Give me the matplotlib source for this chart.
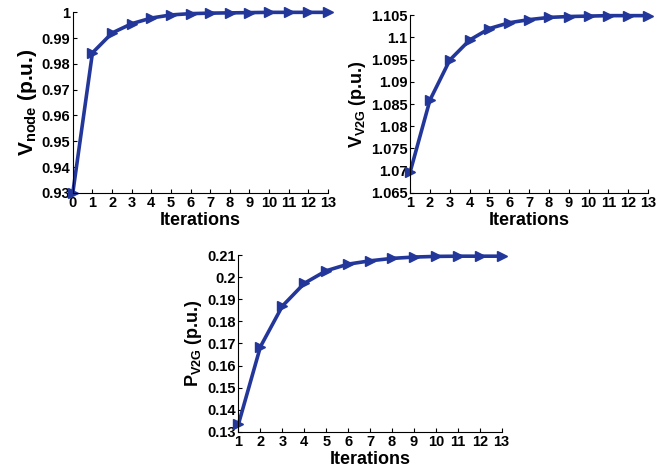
import matplotlib
matplotlib.use("Agg")
import matplotlib.pyplot as plt
from matplotlib.ticker import FormatStrFormatter

plt.rcParams['font.family'] = ['Liberation Sans', 'DejaVu Sans']
plt.rcParams['font.weight'] = 'bold'
plt.rcParams['mathtext.fontset'] = 'custom'
plt.rcParams['mathtext.rm'] = 'Liberation Sans:bold'
plt.rcParams['mathtext.bf'] = 'Liberation Sans:bold'
plt.rcParams['mathtext.it'] = 'Liberation Sans:bold'

# data
it_node = list(range(0, 14))
v_node = [0.93, 0.9843, 0.9920, 0.9956, 0.9978, 0.9990, 0.9995,
          0.9997, 0.9998, 0.9999, 1.0, 1.0, 1.0, 1.0]

it_v2g = list(range(1, 14))
v_v2g = [1.0697, 1.0859, 1.0949, 1.0994, 1.1020, 1.1033, 1.1040,
         1.1045, 1.1047, 1.1048, 1.1049, 1.1049, 1.1049]

p_v2g = [0.1335, 0.1685, 0.1869, 0.1972, 0.2029, 0.2059, 0.2074,
         0.2085, 0.2091, 0.2094, 0.2095, 0.2095, 0.2095]

yticks_node = [0.93, 0.94, 0.95, 0.96, 0.97, 0.98, 0.99, 1.0]
yticks_v2g = [1.065, 1.07, 1.075, 1.08, 1.085, 1.09, 1.095, 1.1, 1.105]
yticks_p = [0.13, 0.14, 0.15, 0.16, 0.17, 0.18, 0.19, 0.2, 0.21]

color = '#23369a'

fig = plt.figure(figsize=(6.68, 4.75), dpi=100)
ax1 = fig.add_axes([0.109, 0.594, 0.382, 0.380])
ax2 = fig.add_axes([0.614, 0.594, 0.356, 0.374])
ax3 = fig.add_axes([0.357, 0.091, 0.394, 0.372])


def style(ax, x, y, xlim, yticks, ylabel, lab_size):
    ax.plot(x, y, color=color, lw=2.6, marker='>', ms=7, clip_on=False)
    ax.set_xlim(*xlim)
    ax.set_ylim(yticks[0], yticks[-1])
    ax.set_xticks(x)
    ax.set_yticks(yticks)
    ax.yaxis.set_major_formatter(FormatStrFormatter('%g'))
    for s in ['top', 'right']:
        ax.spines[s].set_visible(False)
    ax.tick_params(direction='in', length=3, labelsize=10.5, pad=2)
    for t in ax.get_xticklabels() + ax.get_yticklabels():
        t.set_fontweight('bold')
    ax.set_xlabel('Iterations', fontsize=13, fontweight='bold', labelpad=2)
    ax.set_ylabel(ylabel, fontsize=lab_size, fontweight='bold', labelpad=2)


style(ax1, it_node, v_node, (0, 13), yticks_node,
      r'$\mathbf{V_{node}}$' + ' (p.u.)', 15)
style(ax2, it_v2g, v_v2g, (1, 13), yticks_v2g,
      r'$\mathbf{V_{V2G}}$' + ' (p.u.)', 13)
style(ax3, it_v2g, p_v2g, (1, 13), yticks_p,
      r'$\mathbf{P_{V2G}}$' + ' (p.u.)', 13)

fig.savefig('out.png', dpi=100)
